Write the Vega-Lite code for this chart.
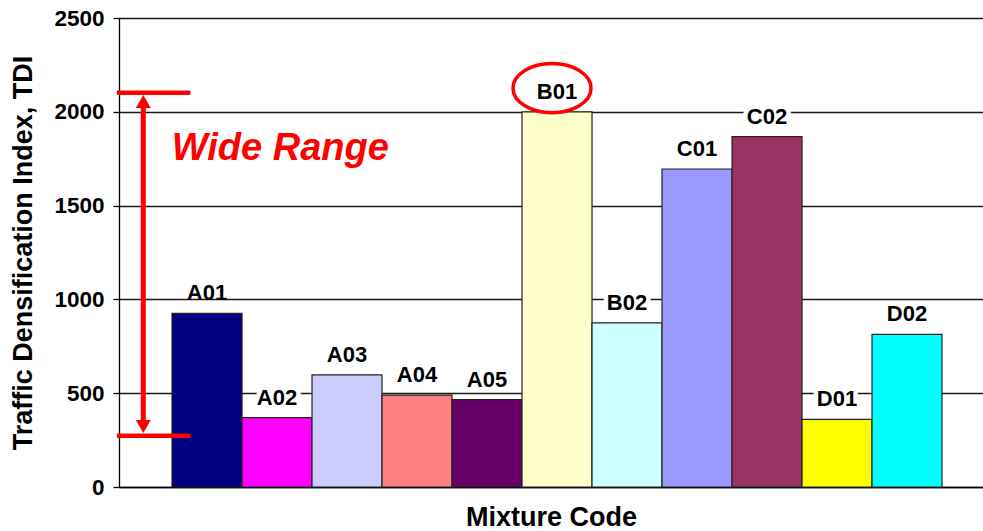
{
  "$schema": "https://vega.github.io/schema/vega-lite/v6.json",
  "width": 864,
  "height": 469,
  "autosize": {"type": "none"},
  "padding": {"left": 119, "top": 18, "right": 0, "bottom": 44},
  "config": {
    "view": {"stroke": null},
    "font": "Liberation Sans",
    "text": {"font": "Liberation Sans"}
  },
  "encoding": {
    "y": {
      "field": "tdi",
      "type": "quantitative",
      "scale": {"domain": [0, 2500], "nice": false, "zero": true},
      "axis": {
        "values": [0, 500, 1000, 1500, 2000, 2500],
        "format": "d",
        "title": "Traffic Densification Index, TDI",
        "titleFontSize": 27,
        "titleFontWeight": "bold",
        "titleColor": "black",
        "titlePadding": 16,
        "labelFontSize": 22.5,
        "labelFontWeight": "bold",
        "labelColor": "black",
        "labelPadding": 9,
        "tickSize": 6,
        "tickColor": "black",
        "tickWidth": 1.3,
        "domainColor": "black",
        "domainWidth": 1.3,
        "grid": true,
        "gridColor": "#1a1a1a",
        "gridWidth": 1.4
      }
    }
  },
  "layer": [
    {
      "data": {
        "values": [
          {"code": "A01", "tdi": 925},
          {"code": "A02", "tdi": 370},
          {"code": "A03", "tdi": 598},
          {"code": "A04", "tdi": 490},
          {"code": "A05", "tdi": 466},
          {"code": "B01", "tdi": 2000},
          {"code": "B02", "tdi": 875},
          {"code": "C01", "tdi": 1695},
          {"code": "C02", "tdi": 1868},
          {"code": "D01", "tdi": 360},
          {"code": "D02", "tdi": 814}
        ]
      },
      "encoding": {
        "x": {
          "field": "code",
          "type": "nominal",
          "sort": null,
          "scale": {"paddingInner": 0, "paddingOuter": 0.6714, "align": 0.564},
          "axis": {
            "title": "Mixture Code",
            "titleFontSize": 27,
            "titleFontWeight": "bold",
            "titleColor": "black",
            "titlePadding": 17,
            "labels": false,
            "ticks": false,
            "grid": false,
            "domainColor": "black",
            "domainWidth": 1.5
          }
        }
      },
      "layer": [
        {
          "mark": {"type": "bar", "stroke": "#222222", "strokeWidth": 1.2},
          "encoding": {
            "color": {
              "field": "code",
              "type": "nominal",
              "scale": {
                "domain": ["A01", "A02", "A03", "A04", "A05", "B01", "B02", "C01", "C02", "D01", "D02"],
                "range": ["#000080", "#FF00FF", "#CCCCFF", "#FF8080", "#660066", "#FFFFCC", "#CCFFFF", "#9999FF", "#993366", "#FFFF00", "#00FFFF"]
              },
              "legend": null
            }
          }
        },
        {
          "transform": [{"filter": {"field": "code", "oneOf": ["A02", "B02", "C02", "D01"]}}],
          "mark": {"type": "text", "dy": -13, "baseline": "alphabetic", "align": "center", "fontSize": 22, "fontWeight": "bold", "fill": "white", "stroke": "white", "strokeWidth": 9},
          "encoding": {"text": {"field": "code"}}
        },
        {
          "mark": {"type": "text", "dy": -13, "baseline": "alphabetic", "align": "center", "fontSize": 22, "fontWeight": "bold", "color": "black"},
          "encoding": {"text": {"field": "code"}}
        }
      ]
    },
    {
      "data": {
        "values": [
          {"item": "cap", "u": -0.03, "u2": 1.02, "tdi": 2102},
          {"item": "cap", "u": -0.03, "u2": 1.02, "tdi": 273},
          {"item": "shaft", "u": 0.347, "tdi": 2055, "tdi2": 322},
          {"item": "headUp", "u": 0.347, "tdi": 2055},
          {"item": "headDown", "u": 0.347, "tdi": 322},
          {"item": "label", "u": 0.753, "tdi": 1742, "text": "Wide Range"},
          {"item": "ring", "u": 6.186, "tdi": 2126}
        ]
      },
      "encoding": {
        "x": {"field": "u", "type": "quantitative", "scale": {"domain": [0, 12.343], "nice": false, "zero": false}, "axis": null}
      },
      "layer": [
        {
          "transform": [{"filter": "datum.item === 'cap'"}],
          "mark": {"type": "rule", "color": "#FF0000", "strokeWidth": 4.5},
          "encoding": {"x2": {"field": "u2"}}
        },
        {
          "transform": [{"filter": "datum.item === 'shaft'"}],
          "mark": {"type": "rule", "color": "#FF0000", "strokeWidth": 5},
          "encoding": {"y2": {"field": "tdi2"}}
        },
        {
          "transform": [{"filter": "datum.item === 'headUp'"}],
          "mark": {"type": "point", "shape": "triangle-up", "size": 225, "filled": true, "color": "#FF0000", "opacity": 1},
          "encoding": {}
        },
        {
          "transform": [{"filter": "datum.item === 'headDown'"}],
          "mark": {"type": "point", "shape": "triangle-down", "size": 225, "filled": true, "color": "#FF0000", "opacity": 1},
          "encoding": {}
        },
        {
          "transform": [{"filter": "datum.item === 'label'"}],
          "mark": {"type": "text", "align": "left", "baseline": "alphabetic", "fontSize": 38, "fontWeight": "bold", "fontStyle": "italic", "color": "#FF0000"},
          "encoding": {"text": {"field": "text"}}
        },
        {
          "transform": [{"filter": "datum.item === 'ring'"}],
          "mark": {
            "type": "point",
            "shape": "M-1,0C-1,-0.348,-0.552,-0.63,0,-0.63C0.552,-0.63,1,-0.348,1,0C1,0.348,0.552,0.63,0,0.63C-0.552,0.63,-1,0.348,-1,0Z",
            "size": 6084,
            "filled": false,
            "stroke": "#FF0000",
            "strokeWidth": 3.5,
            "opacity": 1
          },
          "encoding": {}
        }
      ]
    }
  ],
  "resolve": {"scale": {"x": "independent"}}
}
